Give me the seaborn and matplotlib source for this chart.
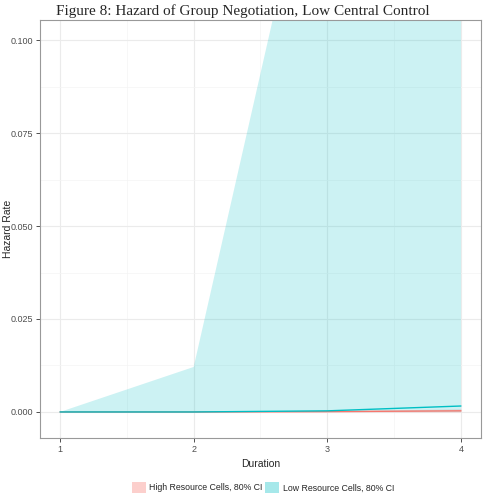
import numpy as np
import pandas as pd
import matplotlib
matplotlib.use("Agg")
import matplotlib.pyplot as plt
import seaborn as sns
from matplotlib.patches import Patch
from matplotlib.ticker import MultipleLocator

sns.set_theme(style="white")
plt.rcParams['font.family'] = ['Liberation Sans', 'DejaVu Sans']

duration = [1, 2, 3, 4]
groups = ["High Resource Cells, 80% CI", "Low Resource Cells, 80% CI"]
high_est = [0.0, 0.0, 0.0001, 0.0003]
high_lo = [0.0, 0.0, 0.0, 0.0]
high_hi = [0.0, 0.0001, 0.0002, 0.0009]
low_est = [0.0, 0.0, 0.0003, 0.0016]
low_lo = [0.0, 0.0, 0.0, 0.0]
low_hi = [0.0, 0.0121, 0.17, 0.30]

colors = {groups[0]: "#F8766D", groups[1]: "#00BFC4"}

df = pd.DataFrame({
    'duration': duration * 2,
    'est': high_est + low_est,
    'lo': high_lo + low_lo,
    'hi': high_hi + low_hi,
    'group': [groups[0]] * 4 + [groups[1]] * 4,
})

fig = plt.figure(figsize=(4.86, 4.98), dpi=100)
ax = fig.add_axes([0.0823, 0.1205, 0.9074, 0.8393])

for g in groups:
    sub = df[df['group'] == g]
    ax.fill_between(sub['duration'], sub['lo'], sub['hi'], color=colors[g], alpha=0.2, lw=0)
sns.lineplot(data=df, x='duration', y='est', hue='group', palette=colors, ax=ax,
             legend=False, lw=1)

ax.set_xlim(0.85, 4.15)
ax.set_ylim(-0.007, 0.1054)
ax.set_xticks([1, 2, 3, 4])
ax.set_yticks([0.0, 0.025, 0.05, 0.075, 0.1])
ax.set_yticklabels(["0.000", "0.025", "0.050", "0.075", "0.100"])
ax.xaxis.set_minor_locator(MultipleLocator(0.5))
ax.yaxis.set_minor_locator(MultipleLocator(0.0125))
ax.grid(True, which='major', color='#EBEBEB', lw=0.8)
ax.grid(True, which='minor', color='#F4F4F4', lw=0.5)
ax.set_axisbelow(True)
for s in ax.spines.values():
    s.set_color('#999999')
    s.set_linewidth(0.8)
ax.tick_params(axis='both', which='major', labelsize=6.5, labelcolor='#4D4D4D',
               length=3, width=0.6, color='#333333', bottom=True, left=True, pad=2)
ax.tick_params(axis='both', which='minor', length=0)
ax.set_xlabel("Duration", fontsize=7.5, labelpad=4)
ax.set_ylabel("Hazard Rate", fontsize=7.5)
ax.yaxis.set_label_coords(-0.062, 0.5)

fig.text(0.5, 0.977, "Figure 8: Hazard of Group Negotiation, Low Central Control",
         ha='center', va='center', fontsize=11, family=['Liberation Serif', 'DejaVu Serif'])

handles = [Patch(facecolor=colors[g], alpha=0.35, edgecolor='none', label=g) for g in groups]
fig.legend(handles=handles, loc='center', bbox_to_anchor=(0.541, 0.021), ncol=2, frameon=False,
           fontsize=6.3, handlelength=1.6, handleheight=1.6, columnspacing=0.3, handletextpad=0.4)

fig.savefig("out.png", dpi=100)
